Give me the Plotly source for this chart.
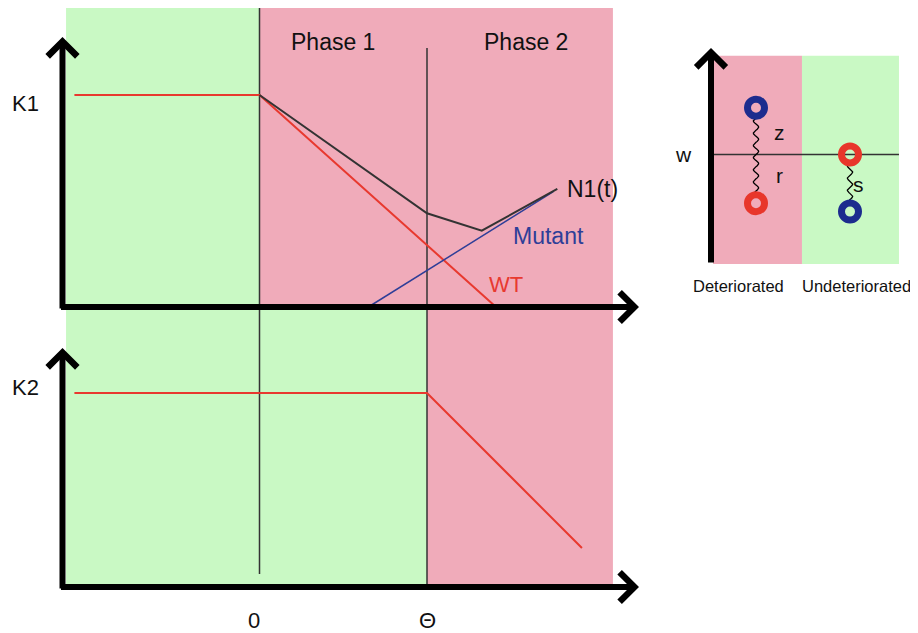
import numpy as np
import plotly.graph_objects as go

W, H = 918, 633
OFF = 8  # page body margin in the browser

# ---------------- data: main panels (time in units of Θ, carrying capacity normalised) -------------
k1_wt_t = [-1.105, 0.0, 1.412]
k1_wt_k = [1.0, 1.0, 0.0]
n1_t = [0.0, 1.0, 1.327, 1.778]
n1_k = [1.0, 0.442, 0.36, 0.557]
mut_t = [0.650, 1.754]
mut_k = [0.0, 0.544]
k2_wt_t = [-1.105, 1.0, 1.925]
k2_wt_k = [1.0, 1.0, 0.201]

t_start, t_zero, t_theta, t_end = -1.155, 0.0, 1.0, 2.110
k1_top = 1.415
k2_top = 1.433
tick_vals = [0.0, 1.0]
tick_text = ["0", "Θ"]
phase_labels = ["Phase 1", "Phase 2"]
phase_label_t = [0.439, 1.591]

# ---------------- data: inset (fitness w of deteriorated / undeteriorated states) -----------------
inset_cats = ["Deteriorated", "Undeteriorated"]
inset_cat_x = [-0.19, 1.074]
inset_bounds = [-0.457, 0.489, 1.521]
inset_w_range = [-2.34, 2.11]
dot_x = [0, 0, 1, 1]
dot_w = [1.0, -1.04, 0.0, -1.22]
dot_col = ["#1c2c8e", "#e8362b", "#e8362b", "#1c2c8e"]

GREEN = "#c9f9c4"
PINK = "#f0abba"
RED = "#e8392f"
BLUE = "#2e3e98"
DARK = "#333333"
FONT = "Liberation Sans, Arial, sans-serif"


def lin(p0, v0, p1, v1):
    return lambda p: v0 + (p - p0) * (v1 - v0) / (p1 - p0)


fx = lin(259.5, 0, 427, 1)
fy1 = lin(307, 0, 95, 1)
fy2 = lin(587, 0, 393, 1)
fx3 = lin(756, 0, 850, 1)
fy3 = lin(154.5, 0, 107.7, 1)

fig = go.Figure()

# vertical phase lines
fig.add_trace(go.Scatter(x=[t_zero, t_zero], y=[k1_top, 0], mode="lines",
                         line=dict(color=DARK, width=1.5), xaxis="x", yaxis="y"))
fig.add_trace(go.Scatter(x=[t_zero, t_zero], y=[k2_top, fy2(574)], mode="lines",
                         line=dict(color=DARK, width=1.5), xaxis="x", yaxis="y2"))
fig.add_trace(go.Scatter(x=[t_theta, t_theta], y=[fy1(48), 0], mode="lines",
                         line=dict(color=DARK, width=1.5), xaxis="x", yaxis="y"))
fig.add_trace(go.Scatter(x=[t_theta, t_theta], y=[k2_top, 0], mode="lines",
                         line=dict(color=DARK, width=1.5), xaxis="x", yaxis="y2"))

# curves
fig.add_trace(go.Scatter(x=k1_wt_t, y=k1_wt_k, mode="lines", line=dict(color=RED, width=2),
                         xaxis="x", yaxis="y"))
fig.add_trace(go.Scatter(x=mut_t, y=mut_k, mode="lines", line=dict(color=BLUE, width=1.5),
                         xaxis="x", yaxis="y"))
fig.add_trace(go.Scatter(x=n1_t, y=n1_k, mode="lines", line=dict(color=DARK, width=2),
                         xaxis="x", yaxis="y"))
fig.add_trace(go.Scatter(x=k2_wt_t, y=k2_wt_k, mode="lines", line=dict(color=RED, width=2),
                         xaxis="x", yaxis="y2"))

# inset: baseline, springs, dots
fig.add_trace(go.Scatter(x=[inset_bounds[0], inset_bounds[2]], y=[0, 0], mode="lines",
                         line=dict(color=DARK, width=1.5), xaxis="x2", yaxis="y3"))
for x0, wa, wb in [(0, 0.78, -0.80), (1, -0.18, -0.97)]:
    ws = np.linspace(wa, wb, 80)
    xs = x0 + 0.028 * np.sin((ws - wa) / 0.26 * 2 * np.pi)
    fig.add_trace(go.Scatter(x=xs, y=ws, mode="lines", line=dict(color="black", width=1.3),
                             xaxis="x2", yaxis="y3"))
fig.add_trace(go.Scatter(x=dot_x, y=dot_w, mode="markers",
                         marker=dict(symbol="circle-open", size=17, color=dot_col,
                                     line=dict(width=7, color=dot_col)),
                         xaxis="x2", yaxis="y3"))

shapes = [
    dict(type="rect", xref="x", yref="y", x0=t_start, x1=t_zero, y0=0, y1=k1_top,
         fillcolor=GREEN, line=dict(width=0), layer="below"),
    dict(type="rect", xref="x", yref="y", x0=t_zero, x1=t_end, y0=0, y1=k1_top,
         fillcolor=PINK, line=dict(width=0), layer="below"),
    dict(type="rect", xref="x", yref="y2", x0=t_start, x1=t_theta, y0=0.0, y1=fy2(309),
         fillcolor=GREEN, line=dict(width=0), layer="below"),
    dict(type="rect", xref="x", yref="y2", x0=t_theta, x1=t_end, y0=0.0, y1=fy2(309),
         fillcolor=PINK, line=dict(width=0), layer="below"),
    dict(type="rect", xref="x2", yref="y3", x0=inset_bounds[0], x1=inset_bounds[1],
         y0=inset_w_range[0], y1=inset_w_range[1], fillcolor=PINK, line=dict(width=0), layer="below"),
    dict(type="rect", xref="x2", yref="y3", x0=inset_bounds[1], x1=inset_bounds[2],
         y0=inset_w_range[0], y1=inset_w_range[1], fillcolor=GREEN, line=dict(width=0), layer="below"),
]

ann = []


def arrow(xref, yref, x, y, ax, ay):
    ann.append(dict(x=x, y=y, ax=ax, ay=ay, xref=xref, yref=yref, axref=xref, ayref=yref,
                    text="", showarrow=True, arrowhead=4, arrowsize=0.95, arrowwidth=6,
                    arrowcolor="black", standoff=0))


t_axis = fx(62.5)
arrow("x", "y", t_axis, fy1(37), t_axis, fy1(310))
arrow("x", "y", fx(639), 0, fx(59.5), 0)
arrow("x", "y2", t_axis, fy2(348), t_axis, fy2(590))
arrow("x", "y2", fx(639), 0, fx(59.5), 0)
arrow("x2", "y3", fx3(711), fy3(48), fx3(711), fy3(264))


def label(xref, yref, x, y, text, size, color="#111111", xanchor="center"):
    ann.append(dict(x=x, y=y, xref=xref, yref=yref, text=text, showarrow=False,
                    xanchor=xanchor, yanchor="middle",
                    font=dict(family=FONT, size=size, color=color)))


for lt, lx in zip(phase_labels, phase_label_t):
    label("x", "y", lx, fy1(42), lt, 23)
label("x", "y", fx(565), fy1(189), "N1(t)", 23, xanchor="left")
label("x", "y", fx(511), fy1(236), "Mutant", 23, color=BLUE, xanchor="left")
label("x", "y", fx(487), fy1(284), "WT", 22, color=RED, xanchor="left")
label("x", "y", fx(25), fy1(103), "K1", 22)
label("x", "y2", fx(25), fy2(387), "K2", 22)
for tv, tt in zip(tick_vals, tick_text):
    label("x", "y2", tv - 0.03 if tt == "0" else tv, fy2(620), tt, 22)

label("x2", "y3", fx3(683), 0, "w", 21)
label("x2", "y3", fx3(779), fy3(132), "z", 21)
label("x2", "y3", fx3(779), fy3(175), "r", 21)
label("x2", "y3", fx3(858), fy3(184), "s", 21)
for cx, ct in zip(inset_cat_x, inset_cats):
    label("x2", "y3", cx, fy3(286), ct, 16.5)

hidden = dict(visible=False, showgrid=False, zeroline=False, autorange=False, fixedrange=True)
fig.update_layout(
    width=W - OFF, height=H - OFF, margin=dict(l=0, r=0, t=0, b=0),
    paper_bgcolor="white", plot_bgcolor="white", showlegend=False,
    xaxis=dict(domain=[0, 1], range=[fx(OFF), fx(W)], **hidden),
    yaxis=dict(domain=[0, 1], range=[fy1(H), fy1(OFF)], **hidden),
    yaxis2=dict(domain=[0, 1], range=[fy2(H), fy2(OFF)], overlaying="y", **hidden),
    xaxis2=dict(domain=[0, 1], range=[fx3(OFF), fx3(W)], overlaying="x", **hidden),
    yaxis3=dict(domain=[0, 1], range=[fy3(H), fy3(OFF)], overlaying="y", **hidden),
    shapes=shapes, annotations=ann,
)

fig.write_html("out.html")
